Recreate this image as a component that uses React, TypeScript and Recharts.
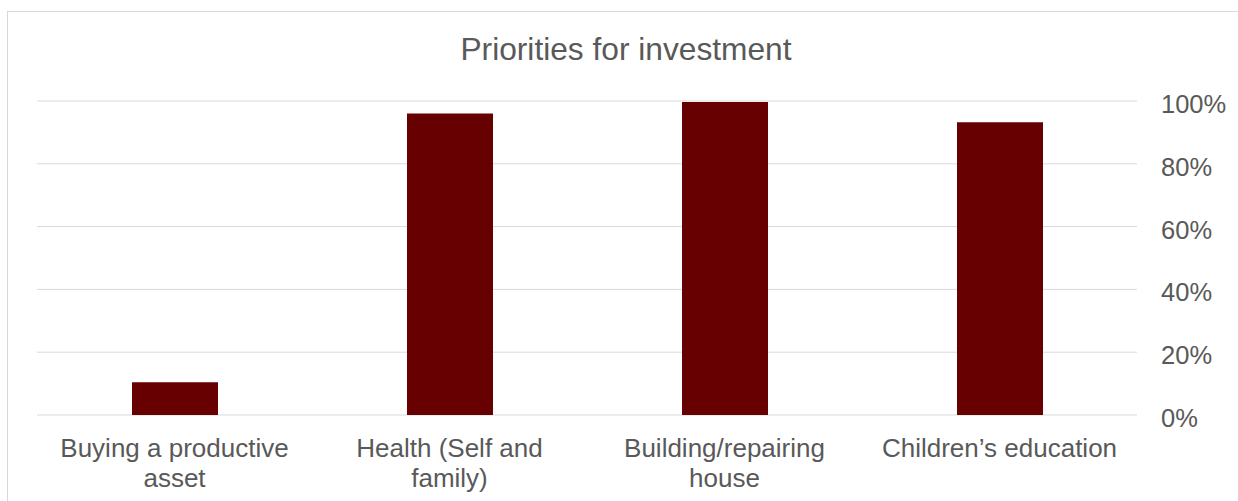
import { Bar, BarChart, CartesianGrid, XAxis, YAxis } from "recharts"

const categories = [
  "Buying a productive asset",
  "Health (Self and family)",
  "Building/repairing house",
  "Children\u2019s education",
]
const shares = [10.4, 96, 99.7, 93.2]
const percentTicks = [0, 20, 40, 60, 80, 100]

const data = categories.map((name, i) => ({ name, share: shares[i] }))

const TEXT = "#595959"
const GRID = "#d9d9d9"
const FONT = "'Liberation Sans', Arial, sans-serif"
const LABEL_SIZE = 26

// break a label into lines that fit the category width
const ctx = document.createElement("canvas").getContext("2d")
const wrap = (label: string, maxWidth: number) => {
  if (!ctx) return [label]
  ctx.font = `${LABEL_SIZE}px ${FONT}`
  const lines: string[] = []
  let line = ""
  for (const word of label.split(" ")) {
    const next = line ? `${line} ${word}` : word
    if (line && ctx.measureText(next).width > maxWidth) {
      lines.push(line)
      line = word
    } else {
      line = next
    }
  }
  if (line) lines.push(line)
  return lines
}

const CategoryTick = ({ x, y, payload }: any) => (
  <text
    x={x}
    y={y}
    textAnchor="middle"
    fontSize={LABEL_SIZE}
    fontFamily={FONT}
    fill={TEXT}
  >
    {wrap(payload.value, 250).map((line, i) => (
      <tspan key={i} x={x} dy={i === 0 ? 19 : 30}>
        {line}
      </tspan>
    ))}
  </text>
)

const PercentTick = ({ x, y, payload }: any) => (
  <text
    x={x}
    y={y + 3}
    textAnchor="start"
    dominantBaseline="central"
    fontSize={25.5}
    fontFamily={FONT}
    fill={TEXT}
  >
    {payload.value}%
  </text>
)

export default function App() {
  return (
    <div
      style={{
        position: "absolute",
        left: 7,
        top: 11,
        width: 1240,
        height: 500,
        border: `1px solid ${GRID}`,
        background: "#fff",
      }}
    >
      <div
        style={{
          position: "absolute",
          left: 0,
          top: 21,
          width: 1236,
          textAlign: "center",
          fontFamily: FONT,
          fontSize: 31.7,
          lineHeight: "32px",
          color: TEXT,
        }}
      >
        Priorities for investment
      </div>
      <BarChart
        width={1240}
        height={488}
        data={data}
        margin={{ top: 89, right: 0, bottom: 0, left: 29 }}
      >
        <CartesianGrid vertical={false} stroke={GRID} />
        <XAxis
          dataKey="name"
          height={85}
          axisLine={false}
          tickLine={false}
          tickSize={0}
          tickMargin={23}
          interval={0}
          tick={<CategoryTick />}
        />
        <YAxis
          orientation="right"
          width={111}
          domain={[0, 100]}
          ticks={percentTicks}
          axisLine={false}
          tickLine={false}
          tickSize={0}
          tickMargin={24}
          tick={<PercentTick />}
        />
        <Bar dataKey="share" fill="#670000" barSize={86} isAnimationActive={false} />
      </BarChart>
    </div>
  )
}
